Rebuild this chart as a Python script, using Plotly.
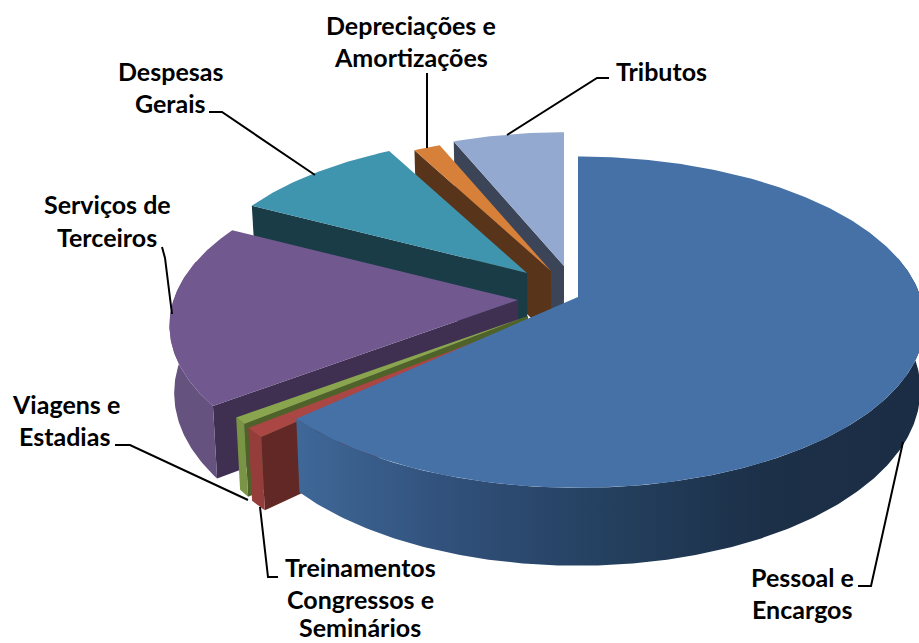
import numpy as np
import plotly.graph_objects as go

# Data (percent of total), clockwise from 12 o'clock
categories = ["Pessoal e Encargos", "Treinamentos Congressos e Seminários", "Viagens e Estadias",
              "Serviços de Terceiros", "Despesas Gerais", "Depreciações e Amortizações", "Tributos"]
values = [63.2, 1.0, 0.7, 17.7, 9.6, 1.5, 6.3]

# Style per slice: top face, outer rim, radial cut face
top_colors = ["#4571A7", "#AA4643", "#89A54E", "#71588F", "#4095AE", "#D7803A", "#93A9CF"]
rim_colors = ["#2a4568", "#943D3A", "#7A9445", "#65527F", "#2f7085", "#a8622b", "#7487a8"]
cut_colors = ["#2a4568", "#622826", "#4F6229", "#3F2F51", "#1A3C47", "#58341A", "#3C4558"]

# Exploded-pie geometry in pixels: apex of each slice, radius factor
apex = [(578, 297), (532, 320), (528, 316), (518, 300), (527, 273), (551, 271), (564, 266)]
radius = [1.005, 0.97, 0.97, 1.01, 0.97, 0.96, 0.95]
F, G, K, H, CONV, XC = 341.0, 161.0, 0.1515, 66.0, 0.012, 560.0


def project(ax, ay, r, th, low=False):
    x, y = r * np.sin(th), -r * np.cos(th)
    d = 1 - K * y
    X = ax + F * x / d
    Y = ay + G * y / d
    if low:
        X = X + (XC - X) * CONV
        Y = Y + H / d
    return X, Y


def project_apex(ax, ay, low=False):
    if low:
        return ax + (XC - ax) * CONV, ay + H
    return ax, ay


edges = np.concatenate([[0], np.cumsum(values)]) / sum(values) * 2 * np.pi
fig = go.Figure()


def poly(xs, ys, color=None, gradient=None):
    kw = dict(fillgradient=gradient) if gradient else dict(fillcolor=color)
    fig.add_trace(go.Scatter(x=list(xs), y=list(ys), mode="lines", fill="toself",
                             line=dict(width=0), hoverinfo="skip", showlegend=False, **kw))


# Paint back-to-front: last slice (Tributos) first, Pessoal last
for i in [6, 5, 4, 3, 2, 1, 0]:
    a0, a1 = edges[i], edges[i + 1]
    ax, ay = apex[i]
    r = radius[i]
    ths = np.linspace(a0, a1, max(6, int((a1 - a0) * 80)))
    # radial cut face at the clockwise-first edge
    if i != 0:
        tx, ty = project(ax, ay, r, a0)
        bx, by = project(ax, ay, r, a0, low=True)
        lx, ly = project_apex(ax, ay, low=True)
        poly([ax, tx, bx, lx, ax], [ay, ty, by, ly, ay], cut_colors[i])
    # outer rim, front-facing part only
    front = ths[-np.cos(ths) > -0.25]
    if len(front) > 1:
        tx, ty = project(ax, ay, r, front)
        bx, by = project(ax, ay, r, front, low=True)
        xs = np.concatenate([tx, bx[::-1], tx[:1]])
        ys = np.concatenate([ty, by[::-1], ty[:1]])
        if i == 0:
            grad = dict(type="horizontal", start=296, stop=919,
                        colorscale=[[0, "#3F6898"], [0.25, "#31507A"], [0.5, "#24405F"],
                                    [0.75, "#1C3048"], [1, "#1B2D44"]])
            poly(xs, ys, gradient=grad)
        else:
            poly(xs, ys, rim_colors[i])
    # top face
    tx, ty = project(ax, ay, r, ths)
    poly(np.concatenate([[ax], tx, [ax]]), np.concatenate([[ay], ty, [ay]]), top_colors[i])

# Leader lines
leaders = [
    [(858, 586), (871, 586), (903, 442)],
    [(278, 577), (268, 577), (260, 507)],
    [(115, 445), (130, 445), (248, 500)],
    [(162, 247), (165, 258), (172, 314)],
    [(209, 112), (222, 112), (315, 175)],
    [(427, 73), (427, 148)],
    [(609, 78), (597, 78), (507, 135)],
]
for pts in leaders:
    fig.add_trace(go.Scatter(x=[p[0] for p in pts], y=[p[1] for p in pts], mode="lines",
                             line=dict(color="black", width=2), hoverinfo="skip", showlegend=False))

# Labels, one annotation per printed line
label_lines = [
    ("Depreciações e", 411, 25), ("Amortizações", 411, 57),
    ("Despesas", 170, 71), ("Gerais", 170, 103),
    ("Tributos", 661, 71),
    ("Serviços de", 107, 204), ("Terceiros", 107, 237),
    ("Viagens e", 66, 404), ("Estadias", 64, 436),
    ("Treinamentos", 360, 567), ("Congressos e", 360, 599), ("Seminários", 360, 627),
    ("Pessoal e", 802, 577), ("Encargos", 802, 609),
]
for text, x, y in label_lines:
    fig.add_annotation(x=x, y=y, text=f"<b>{text}</b>", showarrow=False, xanchor="center", yanchor="middle",
                       font=dict(family="Lato", size=25, color="black"))

fig.update_layout(
    width=919, height=643, margin=dict(l=0, r=0, t=0, b=0),
    paper_bgcolor="white", plot_bgcolor="white", showlegend=False,
    xaxis=dict(range=[0, 919], visible=False, fixedrange=True),
    yaxis=dict(range=[643, 0], visible=False, fixedrange=True),
)
fig.write_html("out.html", config=dict(displayModeBar=False),
               post_script="document.body.style.margin='0';document.documentElement.style.overflow='hidden';")
